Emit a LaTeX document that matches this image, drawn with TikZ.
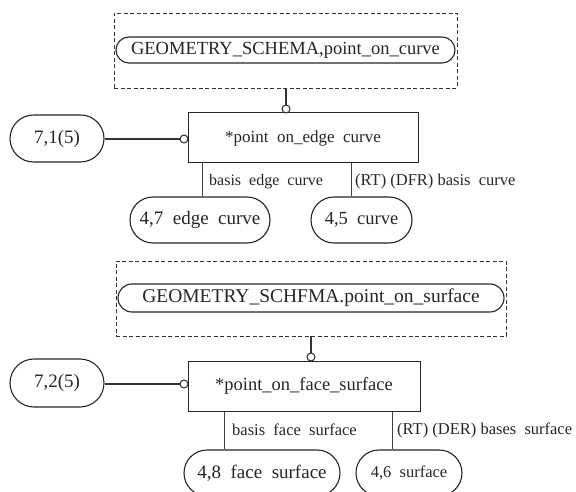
\documentclass[tikz,border=0pt]{standalone}
\usepackage{fontspec}
\setmainfont{Liberation Serif}
\usetikzlibrary{shapes.misc}
\newcommand{\fsz}[1]{\fontsize{#1}{#1}\selectfont}
\tikzset{
  pill/.style={draw=black!85, line width=1.1pt, rounded rectangle, inner sep=0pt, text=black!85},
  entbox/.style={draw=black!85, line width=1pt, rectangle, inner sep=0pt, text=black!85},
  schemabox/.style={draw=black!80, line width=0.9pt, dashed, dash pattern=on 4pt off 2.5pt, rectangle, inner sep=0pt},
  relline/.style={draw=black!80, line width=2pt},
  subline/.style={draw=black!75, line width=0.9pt},
  ring/.style={draw=black!85, line width=1pt, fill=white},
  lbl/.style={anchor=west, inner sep=0pt, text=black!85}
}
\begin{document}
\begin{tikzpicture}[x=1pt,y=-1pt]
\useasboundingbox (0,0) rectangle (576,492);
\clip (0,0) rectangle (576,492);
% ---------- upper group ----------
\node[schemabox, minimum width=343pt, minimum height=75pt] (d1) at (285.5,50.5) {};
\node[pill, minimum width=339pt, minimum height=26pt, font=\fsz{18.5}] (p1) at (285.5,50) {GEOMETRY\_SCHEMA,point\_on\_curve};
\node[entbox, minimum width=230pt, minimum height=50pt, font=\fsz{17}] (b1) at (303,138) {*point~ on\_edge~ curve};
\node[pill, minimum width=94pt, minimum height=47pt, font=\fsz{19}] (l1) at (57,138.5) {7,1(5)};
\node[pill, minimum width=140pt, minimum height=46pt, font=\fsz{19}] (e1) at (200,220) {4,7~ edge~ curve};
\node[pill, minimum width=101pt, minimum height=46pt, font=\fsz{18.5}] (c1) at (361.5,220) {4,5~ curve};
\coordinate (xa1) at (202,0);
\coordinate (xb1) at (351,0);
\coordinate (r1a) at (286,109);
\coordinate (r1b) at (184,139);
\draw[relline] (d1.south -| r1a) -- (r1a);
\draw[ring] (r1a) circle (4pt);
\draw[relline] (l1.east |- r1b) -- (r1b);
\draw[ring] (r1b) circle (4pt);
\draw[subline] (b1.south -| xa1) -- (e1.north -| xa1);
\draw[subline] (b1.south -| xb1) -- (c1.north -| xb1);
\node[lbl, font=\fsz{16}] (t1) at (209,182) {basis~ edge~ curve};
\node[lbl, font=\fsz{16.5}] (t2) at (355,182) {(RT) (DFR) basis~ curve};
% ---------- lower group ----------
\node[schemabox, minimum width=390pt, minimum height=75pt] (d2) at (311,298.5) {};
\node[pill, minimum width=386pt, minimum height=28pt, font=\fsz{19.5}] (p2) at (311,298) {GEOMETRY\_SCHFMA.point\_on\_surface};
\node[entbox, minimum width=232pt, minimum height=50pt, font=\fsz{18.5}] (b2) at (304,386) {*point\_on\_face\_surface};
\node[pill, minimum width=94pt, minimum height=48pt, font=\fsz{19}] (l2) at (57,383) {7,2(5)};
\node[pill, minimum width=156pt, minimum height=46pt, font=\fsz{19}] (f2) at (262,473) {4,8~ face~ surface};
\node[pill, minimum width=106pt, minimum height=46pt, font=\fsz{16.5}] (s2) at (409,473) {4,6~ surface};
\coordinate (xa2) at (224,0);
\coordinate (xb2) at (392,0);
\coordinate (r2a) at (311,357);
\coordinate (r2b) at (184,384);
\draw[relline] (d2.south -| r2a) -- (r2a);
\draw[ring] (r2a) circle (4pt);
\draw[relline] (l2.east |- r2b) -- (r2b);
\draw[ring] (r2b) circle (4pt);
\draw[subline] (b2.south -| xa2) -- (f2.north -| xa2);
\draw[subline] (b2.south -| xb2) -- (s2.north -| xb2);
\node[lbl, font=\fsz{16.5}] (t3) at (232,430) {basis~ face~ surface};
\node[lbl, font=\fsz{16.5}] (t4) at (397,430) {(RT) (DER) bases~ surface};
\end{tikzpicture}
\end{document}
